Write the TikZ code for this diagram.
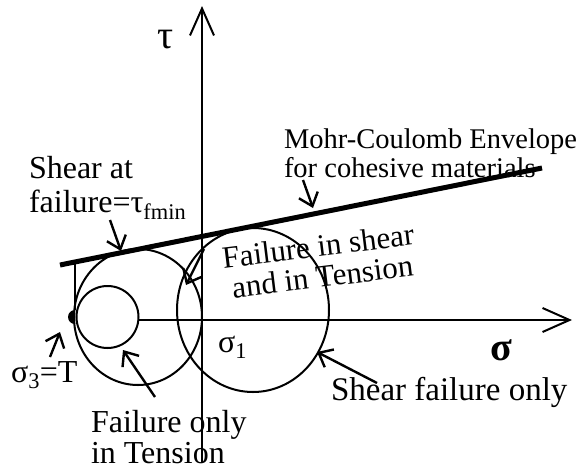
\documentclass[tikz,border=0pt]{standalone}
\usepackage{fontspec}
\setmainfont{Liberation Serif}
\usetikzlibrary{arrows.meta}
\begin{document}
\begin{tikzpicture}[x=1pt,y=-1pt,line width=2pt,every node/.style={font=\fontsize{32}{34}\selectfont,inner sep=0pt},
  lbl/.style={anchor=base west},
  ptr/.style={line width=2.4pt,-{Straight Barb[length=12pt,width=20pt]}},
  axis/.style={line width=2pt,-{Straight Barb[length=27pt,width=24pt]}}]
\useasboundingbox (0,0) rectangle (584,472);
\coordinate (O) at (138,320);
\coordinate (X) at (572,320);
\coordinate (B) at (202,463);
\coordinate (Y) at (202,6);
\coordinate (E1) at (60,265);
\coordinate (E2) at (542,168);
\coordinate (P) at (75,262);
\coordinate (T) at (75,310);
\draw[axis] (O) -- (X);
\draw[axis] (B) -- (Y);
\draw[line width=5pt] (E1) -- (E2);
\draw (138,317) ellipse[x radius=64,y radius=68];
\draw (107.5,317) circle[radius=31];
\draw (253,310) ellipse[x radius=76,y radius=82];
\draw (P) -- (T);
\fill (T) arc[start angle=270,end angle=90,radius=7] -- cycle;
% pointers
\coordinate (A1) at (110,220);
\coordinate (A1t) at (121,251);
\coordinate (A2) at (204,249);
\coordinate (A2t) at (186,285);
\coordinate (A3) at (303,180);
\coordinate (A3t) at (313,208);
\coordinate (A4) at (50,357);
\coordinate (A4t) at (60,332);
\coordinate (A5) at (155,397);
\coordinate (A5t) at (123,350);
\coordinate (A6) at (377,383);
\coordinate (A6t) at (317,352);
\draw[ptr] (A1) -- (A1t);
\draw[ptr] (A2) -- (A2t);
\draw[ptr] (A3) -- (A3t);
\draw[ptr] (A4) -- (A4t);
\draw[ptr] (A5) -- (A5t);
\draw[ptr] (A6) -- (A6t);
% labels
\node[font=\fontsize{40}{40}\selectfont] (tau) at (166,40) {τ};
\node[font=\fontsize{40}{40}\selectfont\bfseries] (sig) at (501,350) {σ};
\node[lbl] (sig1) at (217,352) {σ\textsubscript{1}};
\node[lbl] (sig3) at (10,382) {σ\textsubscript{3}=T};
\node[lbl,font=\fontsize{28.5}{30}\selectfont] (mcA) at (283,148) {Mohr-Coulomb Envelope};
\node[lbl,font=\fontsize{28.5}{30}\selectfont] (mcB) at (283,177) {for cohesive materials};
\node[lbl] (shA) at (28,178) {Shear at};
\node[lbl] (shB) at (28,212) {failure=τ\textsubscript{fmin}};
\node[anchor=north west,rotate=7,align=left,font=\fontsize{31}{31}\selectfont] (fs) at (220,246) {Failure in shear\\\hspace{6pt}and in Tension};
\node[lbl] (foA) at (90,432) {Failure only};
\node[lbl] (foB) at (90,463) {in Tension};
\node[lbl,font=\fontsize{33}{34}\selectfont] (sfo) at (330,400) {Shear failure only};
\end{tikzpicture}
\end{document}
